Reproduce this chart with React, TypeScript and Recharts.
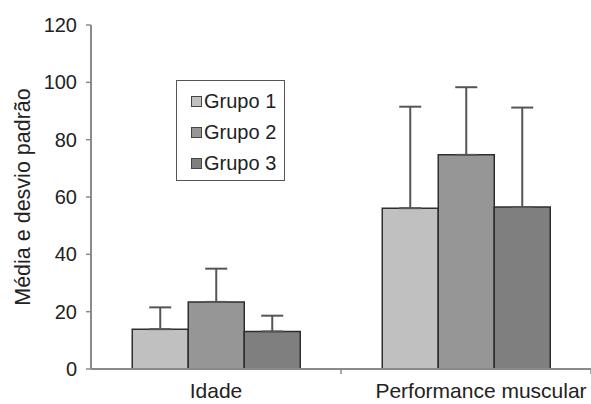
import { Bar, BarChart, ErrorBar, Legend, XAxis, YAxis } from "recharts";

const categories = ["Idade", "Performance muscular"];
const grupo1 = [13.9, 56.1];
const grupo2 = [23.4, 74.7];
const grupo3 = [13.1, 56.5];
const dp1 = [7.6, 35.4];
const dp2 = [11.6, 23.6];
const dp3 = [5.5, 34.7];
const yTicks = [0, 20, 40, 60, 80, 100, 120];
const seriesNames = ["Grupo 1", "Grupo 2", "Grupo 3"];
const seriesColors = ["#c0c0c0", "#969696", "#7f7f7f"];

const FONT = '"Liberation Sans", Arial, sans-serif';

const data = categories.map((name, i) => ({
  name,
  g1: grupo1[i],
  g2: grupo2[i],
  g3: grupo3[i],
  e1: [0, dp1[i]],
  e2: [0, dp2[i]],
  e3: [0, dp3[i]],
}));

function CategoryTick(props: any) {
  const { x, y, payload, index } = props;
  const half = payload?.offset ?? 125;
  // the long label sits a bit right of centre in the original
  const shift = index === categories.length - 1 ? 15 : 0;
  return (
    <g>
      <line x1={x + half} x2={x + half} y1={y} y2={y + 5} stroke="#8a8a8a" strokeWidth={1.5} />
      <text x={x + shift} y={y + 29} textAnchor="middle" fontSize={21} fill="#222" fontFamily={FONT}>
        {payload.value}
      </text>
    </g>
  );
}

function LegendBox() {
  return (
    <div
      style={{
        border: "1.5px solid #555",
        background: "#fff",
        width: 109,
        height: 101,
        boxSizing: "border-box",
        padding: "5px 0 0 14px",
        fontFamily: FONT,
        fontSize: 20,
        color: "#222",
      }}
    >
      {seriesNames.map((n, i) => (
        <div key={n} style={{ display: "flex", alignItems: "center", height: 31 }}>
          <span
            style={{
              display: "inline-block",
              width: 9,
              height: 9,
              background: seriesColors[i],
              border: "1px solid #444",
              marginRight: 2,
            }}
          />
          {n}
        </div>
      ))}
    </div>
  );
}

export default function App() {
  return (
    <div style={{ position: "absolute", left: 0, top: 0, background: "#fff" }}>
      <BarChart
        width={591}
        height={404}
        data={data}
        margin={{ top: 25, right: 0, left: 0, bottom: 0 }}
        barGap={0}
        barCategoryGap="16.5%"
      >
        <XAxis
          dataKey="name"
          height={35}
          tickSize={0}
          tickMargin={0}
          tickLine={false}
          axisLine={{ stroke: "#8a8a8a", strokeWidth: 2 }}
          tick={<CategoryTick />}
          interval={0}
        />
        <YAxis
          width={91}
          domain={[0, 120]}
          ticks={yTicks}
          interval={0}
          tickSize={5}
          tickMargin={9}
          axisLine={{ stroke: "#8a8a8a", strokeWidth: 2 }}
          tickLine={{ stroke: "#8a8a8a", strokeWidth: 1.5 }}
          tick={{ fill: "#222", fontSize: 20, fontFamily: FONT }}
          label={{
            value: "Média e desvio padrão",
            angle: -90,
            position: "center",
            dx: -23,
            style: { fontSize: 21.5, fill: "#222", fontFamily: FONT, textAnchor: "middle" },
          }}
        />
        <Legend
          layout="vertical"
          align="center"
          verticalAlign="middle"
          content={() => <LegendBox />}
          wrapperStyle={{ left: 176, top: 80, width: 109, height: 101 }}
        />
        <Bar dataKey="g1" name={seriesNames[0]} fill={seriesColors[0]} stroke="#2e2e2e" strokeWidth={1.5} isAnimationActive={false}>
          <ErrorBar dataKey="e1" direction="y" width={11} stroke="#555" strokeWidth={2} />
        </Bar>
        <Bar dataKey="g2" name={seriesNames[1]} fill={seriesColors[1]} stroke="#2e2e2e" strokeWidth={1.5} isAnimationActive={false}>
          <ErrorBar dataKey="e2" direction="y" width={11} stroke="#555" strokeWidth={2} />
        </Bar>
        <Bar dataKey="g3" name={seriesNames[2]} fill={seriesColors[2]} stroke="#2e2e2e" strokeWidth={1.5} isAnimationActive={false}>
          <ErrorBar dataKey="e3" direction="y" width={11} stroke="#555" strokeWidth={2} />
        </Bar>
      </BarChart>
    </div>
  );
}
